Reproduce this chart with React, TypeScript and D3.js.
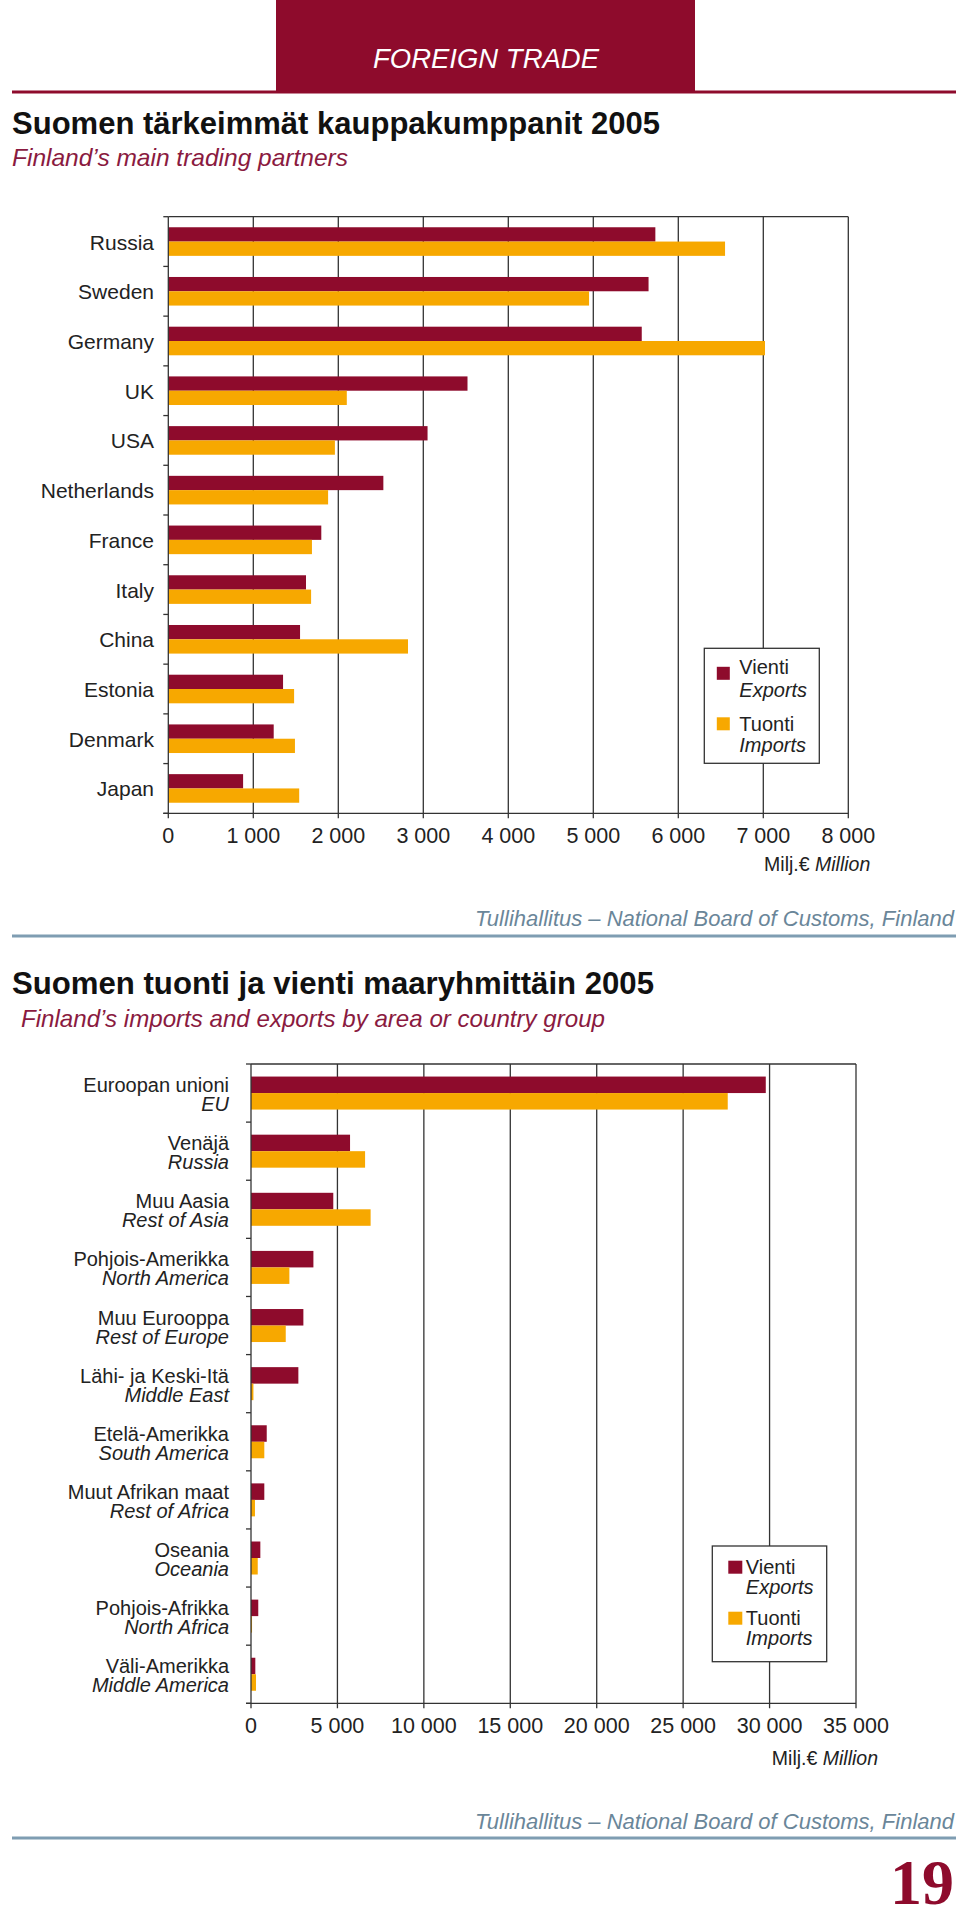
import * as d3 from "d3";
import { useEffect } from "react";

// chart 1: main trading partners 2005 (Milj. €)
const partners = ["Russia", "Sweden", "Germany", "UK", "USA", "Netherlands", "France", "Italy", "China", "Estonia", "Denmark", "Japan"];
const partnerExports = [5730, 5650, 5570, 3520, 3050, 2530, 1800, 1620, 1550, 1350, 1240, 880];
const partnerImports = [6550, 4950, 7020, 2100, 1960, 1880, 1690, 1680, 2820, 1480, 1490, 1540];
const partnerTicks = [0, 1000, 2000, 3000, 4000, 5000, 6000, 7000, 8000];

// chart 2: by area or country group 2005 (Milj. €)
const areasFi = ["Euroopan unioni", "Venäjä", "Muu Aasia", "Pohjois-Amerikka", "Muu Eurooppa", "Lähi- ja Keski-Itä", "Etelä-Amerikka", "Muut Afrikan maat", "Oseania", "Pohjois-Afrikka", "Väli-Amerikka"];
const areasEn = ["EU", "Russia", "Rest of Asia", "North America", "Rest of Europe", "Middle East", "South America", "Rest of Africa", "Oceania", "North Africa", "Middle America"];
const areaExports = [29780, 5730, 4760, 3610, 3030, 2740, 910, 770, 540, 420, 250];
const areaImports = [27580, 6600, 6920, 2220, 2010, 140, 770, 230, 390, 60, 290];
const areaTicks = [0, 5000, 10000, 15000, 20000, 25000, 30000, 35000];

const RED = "#8e0b2c";
const YELLOW = "#f7a800";
const GRID = "#333";
const SANS = "'Liberation Sans', Arial, sans-serif";
const fmt = d3.formatLocale({ decimal: ",", thousands: " ", grouping: [3], currency: ["", "€"] }).format(",");

type ChartProps = {
  cats: string[];
  sub?: string[];
  exp: number[];
  imp: number[];
  ticks: number[];
  x0: number;
  x1: number;
  y0: number;
  y1: number;
  barH: number;
  labelX: number;
  legend: { x: number; y: number; w: number; h: number; sx: number; sw: number; sy: number[]; tx: number; ty: number[] };
  unitY: number;
};

function BarChart(p: ChartProps) {
  const x = d3.scaleLinear().domain([0, p.ticks[p.ticks.length - 1]]).range([p.x0, p.x1]);
  const y = d3.scaleBand().domain(p.cats).range([p.y0, p.y1]);
  const bw = y.bandwidth();
  const po = (bw / p.barH - 2) / 2;
  const inner = d3.scaleBand().domain(["exp", "imp"]).range([0, bw]).paddingOuter(po);
  const lg = p.legend;
  return (
    <g fontFamily={SANS}>
      {/* gridlines */}
      {p.ticks.slice(1).map((t) => (
        <line key={t} x1={x(t)} x2={x(t)} y1={p.y0} y2={p.y1 + 5} stroke={GRID} strokeWidth={1.3} />
      ))}
      <line x1={p.x0} x2={p.x1} y1={p.y0} y2={p.y0} stroke={GRID} strokeWidth={1.3} />
      {/* bars */}
      {p.cats.map((c, i) => (
        <g key={c}>
          <rect x={x(0)} y={y(c)! + inner("exp")!} width={x(p.exp[i]) - x(0)} height={inner.bandwidth()} fill={RED} />
          <rect x={x(0)} y={y(c)! + inner("imp")!} width={x(p.imp[i]) - x(0)} height={inner.bandwidth()} fill={YELLOW} />
        </g>
      ))}
      {/* left axis */}
      <line x1={p.x0} x2={p.x0} y1={p.y0} y2={p.y1} stroke={GRID} strokeWidth={1.3} />
      {[...p.cats.map((c) => y(c)!), p.y1].map((v, i) => (
        <line key={i} x1={p.x0 - 5} x2={p.x0} y1={v} y2={v} stroke={GRID} strokeWidth={1.3} />
      ))}
      {/* bottom axis */}
      <line x1={p.x0 - 5} x2={p.x1} y1={p.y1} y2={p.y1} stroke={GRID} strokeWidth={1.3} />
      <line x1={p.x0} x2={p.x0} y1={p.y1} y2={p.y1 + 5} stroke={GRID} strokeWidth={1.3} />
      {p.ticks.map((t) => (
        <text key={t} x={x(t)} y={p.y1 + 30} textAnchor="middle" fontSize={21.5} fill="#222">
          {fmt(t)}
        </text>
      ))}
      <text x={p.x1 + 22} y={p.unitY} textAnchor="end" fontSize={19.5} fill="#222">
        Milj.€ <tspan fontStyle="italic">Million</tspan>
      </text>
      {/* category labels */}
      {p.cats.map((c, i) => {
        const cy = y(c)! + bw / 2;
        return p.sub ? (
          <g key={c} textAnchor="end" fontSize={20} fill="#222">
            <text x={p.labelX} y={cy - 1}>{c}</text>
            <text x={p.labelX} y={cy + 18} fontStyle="italic">{p.sub[i]}</text>
          </g>
        ) : (
          <text key={c} x={p.labelX} y={cy + 8} textAnchor="end" fontSize={21} fill="#222">
            {c}
          </text>
        );
      })}
      {/* legend */}
      <rect x={lg.x} y={lg.y} width={lg.w} height={lg.h} fill="#fff" stroke={GRID} strokeWidth={1.3} />
      <rect x={lg.x + lg.sx} y={lg.y + lg.sy[0]} width={lg.sw} height={13} fill={RED} />
      <rect x={lg.x + lg.sx} y={lg.y + lg.sy[1]} width={lg.sw} height={13} fill={YELLOW} />
      <g fontSize={20} fill="#222">
        <text x={lg.x + lg.tx} y={lg.y + lg.ty[0]}>Vienti</text>
        <text x={lg.x + lg.tx} y={lg.y + lg.ty[1]} fontStyle="italic">Exports</text>
        <text x={lg.x + lg.tx} y={lg.y + lg.ty[2]}>Tuonti</text>
        <text x={lg.x + lg.tx} y={lg.y + lg.ty[3]} fontStyle="italic">Imports</text>
      </g>
    </g>
  );
}

export default function App() {
  useEffect(() => {
    document.body.style.margin = "0";
  }, []);

  return (
    <svg width={960} height={1917} style={{ display: "block", background: "#fff" }}>
      {/* header */}
      <rect x={276} y={0} width={419} height={92} fill={RED} />
      <line x1={12} x2={956} y1={92} y2={92} stroke={RED} strokeWidth={3} />
      <text x={486} y={68} textAnchor="middle" fill="#fff" fontFamily={SANS} fontStyle="italic" fontSize={28} textLength={226} lengthAdjust="spacingAndGlyphs">
        FOREIGN TRADE
      </text>

      <text x={12} y={134} fontFamily={SANS} fontWeight="bold" fontSize={31} fill="#111" textLength={648} lengthAdjust="spacingAndGlyphs">
        Suomen tärkeimmät kauppakumppanit 2005
      </text>
      <text x={12} y={166} fontFamily={SANS} fontStyle="italic" fontSize={24} fill="#8a1a40" textLength={336} lengthAdjust="spacingAndGlyphs">
        Finland’s main trading partners
      </text>

      <BarChart
        cats={partners}
        exp={partnerExports}
        imp={partnerImports}
        ticks={partnerTicks}
        x0={168.3}
        x1={848.3}
        y0={216.7}
        y1={813.3}
        barH={14.3}
        labelX={154}
        unitY={871}
        legend={{ x: 704.3, y: 648.3, w: 115, h: 115, sx: 12.5, sw: 13, sy: [18.5, 69], tx: 35, ty: [26, 48.5, 83, 103.5] }}
      />

      <text x={954} y={926} textAnchor="end" fontFamily={SANS} fontStyle="italic" fontSize={22} fill="#6a8699">
        Tullihallitus – National Board of Customs, Finland
      </text>
      <line x1={12} x2={956} y1={936} y2={936} stroke="#7f9db2" strokeWidth={3} />

      <text x={12} y={994} fontFamily={SANS} fontWeight="bold" fontSize={31} fill="#111" textLength={642} lengthAdjust="spacingAndGlyphs">
        Suomen tuonti ja vienti maaryhmittäin 2005
      </text>
      <text x={21} y={1027} fontFamily={SANS} fontStyle="italic" fontSize={24} fill="#8a1a40" textLength={584} lengthAdjust="spacingAndGlyphs">
        Finland’s imports and exports by area or country group
      </text>

      <BarChart
        cats={areasFi}
        sub={areasEn}
        exp={areaExports}
        imp={areaImports}
        ticks={areaTicks}
        x0={251}
        x1={856}
        y0={1064}
        y1={1703.3}
        barH={16.5}
        labelX={229}
        unitY={1765}
        legend={{ x: 712.3, y: 1546, w: 114.4, h: 115.7, sx: 16, sw: 14, sy: [14.7, 65.7], tx: 33.5, ty: [28, 48, 79, 99] }}
      />

      <text x={954} y={1829} textAnchor="end" fontFamily={SANS} fontStyle="italic" fontSize={22} fill="#6a8699">
        Tullihallitus – National Board of Customs, Finland
      </text>
      <line x1={12} x2={956} y1={1838} y2={1838} stroke="#7f9db2" strokeWidth={3} />

      <text x={954} y={1904} textAnchor="end" fontFamily="'Liberation Serif', serif" fontWeight="bold" fontSize={64} fill={RED}>
        19
      </text>
    </svg>
  );
}
